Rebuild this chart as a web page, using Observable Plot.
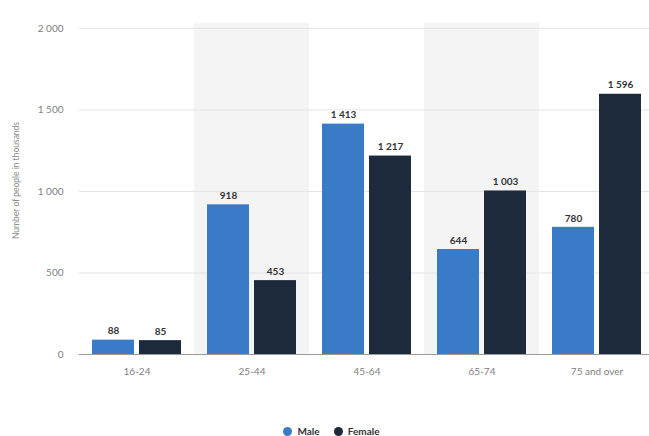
<!DOCTYPE html>
<html>
<head>
<meta charset="utf-8">
<script src="https://cdn.jsdelivr.net/npm/d3@7"></script>
<script src="https://cdn.jsdelivr.net/npm/@observablehq/plot@0.6"></script>
<style>
  body { margin: 0; background: #fff; font-family: Lato, "Open Sans", sans-serif; overflow: hidden; }
  #legend { display: flex; justify-content: center; gap: 14px; padding-left: 14px; margin-top: 3px;
            font-size: 10px; font-weight: 700; color: #333; height: 16px; align-items: center; }
  #legend span.sw { display: inline-block; width: 9px; height: 9px; border-radius: 50%; margin-right: 5px; vertical-align: -1px; }
</style>
</head>
<body>
<div id="chart"></div>
<div id="legend"></div>
<script>
// Age groups and counts (thousands of people)
const ageGroups = ["16-24", "25-44", "45-64", "65-74", "75 and over"];
const sexes = ["Male", "Female"];
const maleValues = [88, 918, 1413, 644, 780];
const femaleValues = [85, 453, 1217, 1003, 1596];
const yTicks = [0, 500, 1000, 1500, 2000];
const shadedGroups = ["25-44", "65-74"];
const colors = ["#3a7bc8", "#1c2a3c"];
const yTitle = "Number of people in thousands";

const rows = ageGroups.flatMap((g, i) => [
  {group: g, sex: "Male", value: maleValues[i]},
  {group: g, sex: "Female", value: femaleValues[i]}
]);

const fmt = d3.formatLocale({thousands: " ", grouping: [3], decimal: "."}).format(",");

const chart = Plot.plot({
  width: 649,
  height: 420,
  marginTop: 23,
  marginBottom: 66,
  marginLeft: 78,
  marginRight: -6,
  style: {fontFamily: "Lato, 'Open Sans', sans-serif", fontSize: "10px", color: "#808080"},
  fx: {domain: ageGroups, padding: 0, label: null, tickSize: 0, tickPadding: 13},
  x: {domain: sexes, axis: null, paddingInner: 0.11, paddingOuter: 0.26},
  y: {domain: [0, 2030], ticks: yTicks, tickFormat: fmt, tickSize: 0, tickPadding: 16, label: null},
  color: {domain: sexes, range: colors},
  marks: [
    Plot.rect(shadedGroups, {fx: d => d, fill: "#f4f4f4"}),
    Plot.gridY(yTicks.filter(t => t > 0), {stroke: "#e4e4e4", strokeOpacity: 1}),
    Plot.barY(rows, {fx: "group", x: "sex", y: "value", fill: "sex"}),
    Plot.ruleY([0], {stroke: "#9a9a9a", strokeWidth: 1.2}),
    Plot.text(rows, {fx: "group", x: "sex", y: "value", text: d => fmt(d.value), dy: -9,
                     fill: "#333", fontWeight: 700, fontSize: 10})
  ]
});
document.getElementById("chart").append(chart);

// rotated y-axis title, centred on the plotting area
d3.select(chart).append("text")
  .attr("transform", `translate(16,${(23 + 354) / 2 - 8}) rotate(-90)`)
  .attr("text-anchor", "middle")
  .attr("dy", "0.35em")
  .attr("fill", "#8a8a8a")
  .attr("font-size", 8.5)
  .text(yTitle);

// legend below the plot
const legend = d3.select("#legend");
sexes.forEach((s, i) => {
  const item = legend.append("div");
  item.append("span").attr("class", "sw").style("background", colors[i]);
  item.append("span").text(s);
});
</script>
</body>
</html>
